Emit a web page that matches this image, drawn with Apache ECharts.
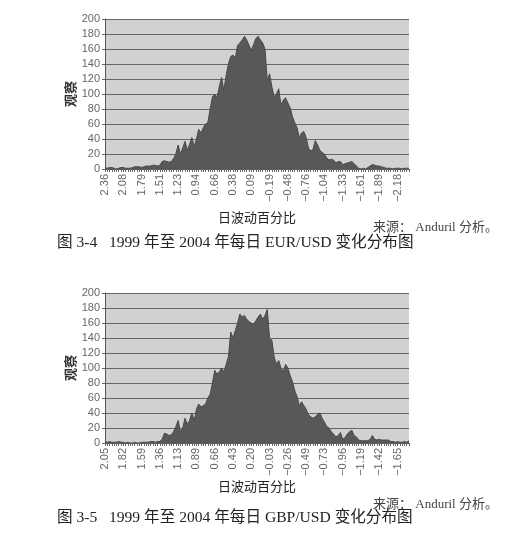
<!DOCTYPE html>
<html><head><meta charset="utf-8">
<script src="https://cdn.jsdelivr.net/npm/echarts@6/dist/echarts.min.js"></script>
<style>html,body{margin:0;padding:0;background:#fff}#c{width:518px;height:551px}</style>
</head><body><div id="c"></div>
<script>
const eurCounts = [
  2,1,2,2,1,0,1,2,2,1,
  1,1,2,3,3,3,2,3,4,4,
  4,5,5,4,5,10,11,10,9,10,
  14,20,32,20,28,37,25,33,42,30,
  40,53,48,55,60,62,80,96,100,95,
  110,122,105,125,140,150,152,148,165,168,
  172,177,172,165,158,166,174,177,172,168,
  160,118,127,110,96,100,107,85,92,95,
  88,82,70,62,55,42,48,50,42,28,
  24,26,38,32,25,22,20,15,12,13,
  12,8,10,10,6,7,8,9,10,7,
  4,1,0,1,0,2,4,6,5,4,
  4,3,2,1,1,1,0,1,1,1,
  0,1,1,1
];
const gbpCounts = [
  2,1,2,1,1,1,2,1,1,0,
  1,0,0,1,0,0,1,1,1,1,
  2,2,1,2,2,5,13,12,10,11,
  15,22,30,15,20,33,25,30,40,30,
  45,52,48,50,52,60,65,80,97,92,
  95,100,95,105,115,148,140,150,160,172,
  168,170,165,162,160,158,163,168,172,165,
  170,178,140,137,115,105,110,100,95,105,
  100,90,82,70,62,50,55,50,45,38,
  35,33,35,38,40,33,28,22,20,15,
  12,8,10,14,5,7,12,15,17,10,
  8,4,3,3,3,3,5,10,5,4,
  5,4,4,4,4,2,2,1,2,1,
  1,2,1,3
];
// Tick labels shown every 8th bin
const eurTickLabels = ['2.36','2.08','1.79','1.51','1.23','0.94','0.66','0.38','0.09','\u22120.19','\u22120.48','\u22120.76','\u22121.04','\u22121.33','\u22121.61','\u22121.89','\u22122.18'];
const gbpTickLabels = ['2.05','1.82','1.59','1.36','1.13','0.89','0.66','0.43','0.20','\u22120.03','\u22120.26','\u22120.49','\u22120.73','\u22120.96','\u22121.19','\u22121.42','\u22121.65'];
const labelEvery = 8;
const xTitle = '日波动百分比';
const yTitle = '观察';
const source = '来源： Anduril 分析。';
const caption1 = '图 3-4   1999 年至 2004 年每日 EUR/USD 变化分布图';
const caption2 = '图 3-5   1999 年至 2004 年每日 GBP/USD 变化分布图';

const chart = echarts.init(document.getElementById('c'), null, {renderer:'canvas'});
const sans = '"Liberation Sans", Arial, sans-serif';
const cjk = '"Liberation Serif", "Noto Sans CJK SC", serif';

function grid(top){
  return {left:105, top:top, width:304, height:150, show:true, backgroundColor:'#d1d1d1', borderWidth:0, outerBoundsMode:'none', containLabel:false};
}
function xAxis(idx, labels, gap){
  return {
    type:'category', gridIndex:idx, boundaryGap:false,
    data: (idx===0?eurCounts:gbpCounts).map((_, i) => String(i)),
    axisLine:{lineStyle:{color:'#555', width:1}},
    axisTick:{show:true, interval:0, length:3, lineStyle:{color:'#666'}},
    axisLabel:{interval:labelEvery-1, rotate:90, margin:5, fontSize:11, fontFamily:sans, color:'#666',
      formatter:(v, i) => labels[Math.round(i/labelEvery)] || ''},
    name:xTitle, nameLocation:'middle', nameGap:gap, nameMoveOverlap:false,
    nameTextStyle:{fontSize:13, color:'#222', fontFamily:'"Noto Sans CJK SC", sans-serif'},
    splitLine:{show:false}
  };
}
function yAxis(idx){
  return {
    type:'value', gridIndex:idx, min:0, max:200, interval:20,
    axisLine:{show:true, lineStyle:{color:'#555'}},
    axisTick:{show:true, length:3, lineStyle:{color:'#666'}},
    axisLabel:{fontSize:11, fontFamily:sans, color:'#666', margin:5},
    splitLine:{show:true, lineStyle:{color:'#666', width:1}},
    name:yTitle, nameLocation:'middle', nameRotate:90, nameGap:28, nameMoveOverlap:false,
    nameTextStyle:{fontSize:13, fontWeight:'bold', color:'#333', fontFamily:'"Noto Sans CJK SC", sans-serif'}
  };
}
function areaSeries(idx, data){
  return {type:'line', xAxisIndex:idx, yAxisIndex:idx, data:data, symbol:'none', smooth:false,
    lineStyle:{color:'#4a4a4a', width:1}, areaStyle:{color:'#585858', opacity:1}, silent:true, animation:false};
}

chart.setOption({
  backgroundColor:'#ffffff',
  animation:false,
  grid:[grid(19), grid(293)],
  xAxis:[xAxis(0, eurTickLabels, 42), xAxis(1, gbpTickLabels, 37)],
  yAxis:[yAxis(0), yAxis(1)],
  series:[areaSeries(0, eurCounts), areaSeries(1, gbpCounts)],
  graphic:[
    {type:'text', left:373, top:221, style:{text:source, font:'13px '+cjk, fill:'#444'}},
    {type:'text', left:57, top:235, style:{text:caption1, font:'15.6px '+cjk, fill:'#222'}},
    {type:'text', left:373, top:498, style:{text:source, font:'13px '+cjk, fill:'#444'}},
    {type:'text', left:57, top:510, style:{text:caption2, font:'15.6px '+cjk, fill:'#222'}}
  ]
});
</script></body></html>
